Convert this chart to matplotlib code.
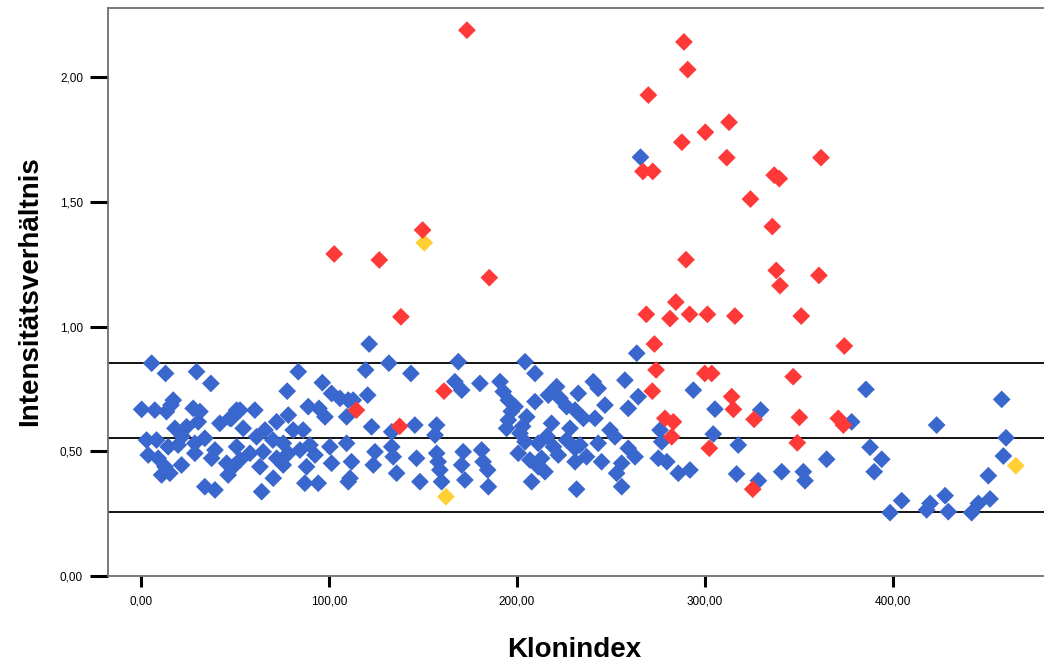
import matplotlib
matplotlib.use("Agg")
import matplotlib.pyplot as plt
from matplotlib.ticker import FuncFormatter

# clone index / intensity ratio
blue_x = [5.7, 13.1, 29.6, 37.2, 0.4, 7.4, 13.6, 17.2, 27.8, 31.4, 30.5, 24.3, 42.0, 47.3, 50.9,
          3.0, 8.3, 3.9, 9.2, 14.5, 19.8, 28.7, 34.0, 28.7, 39.4, 37.6, 12.8, 21.6, 11.0, 15.4,
          45.6, 46.4, 34.0, 39.4, 18.1, 16.0, 22.0,
          83.7, 96.5, 77.8, 101.4, 105.9, 110.3, 89.0, 94.7, 97.9, 109.4, 52.7, 60.6, 48.2, 78.4,
          72.2, 54.4, 66.0, 86.3, 81.0, 61.5, 70.2, 75.7, 89.9, 100.5, 50.9, 109.4, 58.0, 65.0,
          78.4, 84.6, 92.6, 52.7, 72.2, 101.4, 49.1, 63.3, 75.7, 88.1, 70.4, 87.2, 94.3, 64.2, 110.3,
          121.4, 131.9, 119.5, 143.6, 168.8, 167.0, 170.6, 120.6, 112.9, 122.7, 133.4, 145.7, 157.3,
          156.4, 124.5, 133.4, 134.2, 112.0, 123.6, 146.6, 157.3, 158.1, 159.0, 159.9, 171.4, 170.6,
          172.3, 111.2, 136.0, 148.4,
          204.3, 209.6, 180.3, 191.0, 192.7, 195.4, 199.0, 209.6, 221.1, 216.7, 232.6, 222.9, 226.4,
          230.9, 205.2, 195.4, 194.5, 218.4, 228.2, 201.6, 204.3, 211.3, 219.4, 226.4, 230.9, 200.7,
          206.9, 213.1, 222.0, 230.9, 211.3, 214.9, 207.8, 231.7, 181.2, 182.0, 184.4, 184.8, 197.0,
          203.0, 216.0,
          263.7, 257.4, 240.6, 243.2, 264.5, 246.8, 259.2, 293.8, 235.3, 241.5, 249.5, 252.1, 243.2,
          233.5, 237.0, 259.2, 262.8, 255.7, 253.0, 255.7, 245.0, 276.1, 277.0, 275.2, 279.7, 285.8,
          292.0, 265.7,
          305.3, 329.6, 304.4, 317.7, 316.8, 328.4, 340.8, 352.3, 353.2,
          385.6, 378.0, 387.8, 394.0, 364.7, 390.0, 398.4, 404.6, 417.9,
          457.8, 423.2, 460.1, 458.7, 450.7, 451.6, 445.4, 441.8, 427.7, 429.4, 419.7]
blue_y = [0.853, 0.812, 0.819, 0.772, 0.668, 0.665, 0.659, 0.705, 0.672, 0.659, 0.618, 0.598, 0.612,
          0.632, 0.665, 0.545, 0.545, 0.485, 0.472, 0.518, 0.525, 0.532, 0.552, 0.492, 0.505, 0.472,
          0.438, 0.445, 0.405, 0.412, 0.452, 0.405, 0.358, 0.345, 0.592, 0.685, 0.560,
          0.819, 0.775, 0.741, 0.732, 0.712, 0.705, 0.679, 0.672, 0.638, 0.638, 0.665, 0.665, 0.632,
          0.645, 0.618, 0.592, 0.585, 0.585, 0.585, 0.558, 0.545, 0.532, 0.525, 0.518, 0.518, 0.532,
          0.492, 0.498, 0.492, 0.505, 0.485, 0.465, 0.472, 0.452, 0.438, 0.438, 0.445, 0.438, 0.392,
          0.372, 0.372, 0.338, 0.378,
          0.930, 0.853, 0.826, 0.812, 0.859, 0.779, 0.745, 0.725, 0.705, 0.598, 0.578, 0.605, 0.605,
          0.565, 0.498, 0.518, 0.478, 0.458, 0.445, 0.472, 0.492, 0.458, 0.425, 0.378, 0.498, 0.445,
          0.385, 0.392, 0.412, 0.378,
          0.859, 0.812, 0.772, 0.779, 0.739, 0.705, 0.679, 0.699, 0.759, 0.725, 0.732, 0.712, 0.679,
          0.665, 0.638, 0.625, 0.592, 0.612, 0.592, 0.572, 0.538, 0.532, 0.518, 0.545, 0.512, 0.492,
          0.465, 0.472, 0.485, 0.458, 0.438, 0.418, 0.378, 0.348, 0.505, 0.458, 0.425, 0.358, 0.660,
          0.600, 0.560,
          0.893, 0.785, 0.779, 0.752, 0.719, 0.685, 0.672, 0.745, 0.632, 0.632, 0.585, 0.558, 0.532,
          0.525, 0.478, 0.512, 0.478, 0.452, 0.412, 0.358, 0.458, 0.585, 0.538, 0.472, 0.458, 0.412,
          0.425, 1.679,
          0.669, 0.665, 0.569, 0.525, 0.409, 0.382, 0.418, 0.418, 0.382,
          0.748, 0.618, 0.516, 0.468, 0.468, 0.418, 0.254, 0.302, 0.265,
          0.708, 0.605, 0.554, 0.481, 0.402, 0.309, 0.291, 0.254, 0.322, 0.258, 0.291]

red_x = [173.4, 102.8, 126.8, 149.8, 185.3, 138.3, 161.2, 114.6, 137.6,
         288.8, 290.8, 269.9, 312.8, 300.2, 287.7, 311.6, 361.7, 267.0, 272.2, 336.8, 339.5, 324.2,
         335.8, 289.9, 337.9, 360.6, 339.9, 284.5, 268.8, 281.4, 291.8, 301.3, 315.9, 351.2, 273.1,
         374.1, 274.0, 272.0, 299.9, 303.6, 346.9, 314.2, 315.1, 326.1, 350.2, 302.3, 349.1, 325.4,
         370.9, 373.6, 278.7, 283.2, 282.3]
red_y = [2.188, 1.291, 1.267, 1.387, 1.196, 1.039, 0.741, 0.665, 0.600,
         2.141, 2.030, 1.928, 1.819, 1.779, 1.739, 1.677, 1.677, 1.622, 1.622, 1.607, 1.593, 1.511,
         1.401, 1.268, 1.225, 1.205, 1.164, 1.098, 1.049, 1.032, 1.049, 1.049, 1.042, 1.042, 0.930,
         0.922, 0.826, 0.741, 0.812, 0.812, 0.799, 0.719, 0.668, 0.628, 0.636, 0.512, 0.534, 0.348,
         0.632, 0.605, 0.632, 0.618, 0.558]

yellow_x = [150.7, 162.2, 465.3]
yellow_y = [1.336, 0.318, 0.442]

ref_lines = [0.855, 0.555, 0.255]
x_ticks = [0, 100, 200, 300, 400]
y_ticks = [0, 0.5, 1.0, 1.5, 2.0]

fig = plt.figure(figsize=(10.44, 6.66), dpi=100)
ax = fig.add_axes([108 / 1044, 90 / 666, (1044 - 108) / 1044, (576 - 8) / 666])

for y in ref_lines:
    ax.axhline(y, color="black", lw=1.3, zorder=1)

ms = 82
ax.scatter(blue_x, blue_y, marker="D", s=ms, color="#3a67cd", edgecolors="none", zorder=2)
ax.scatter(yellow_x, yellow_y, marker="D", s=ms, color="#ffcf33", edgecolors="none", zorder=3)
ax.scatter(red_x, red_y, marker="D", s=ms, color="#ff3838", edgecolors="none", zorder=4)

ax.set_xlim(-17.5, 480.3)
ax.set_ylim(0, 2.277)
ax.set_xticks(x_ticks)
ax.set_yticks(y_ticks)
comma = FuncFormatter(lambda v, pos: f"{v:.2f}".replace(".", ","))
ax.xaxis.set_major_formatter(comma)
ax.yaxis.set_major_formatter(comma)

for side in ["left", "bottom", "top"]:
    ax.spines[side].set_color("#707070")
    ax.spines[side].set_linewidth(1.3)
ax.spines["right"].set_visible(False)

ax.tick_params(axis="y", length=13, width=2.2, pad=5, labelsize=8.5)
ax.tick_params(axis="x", length=8, width=2.2, pad=6, labelsize=8.5)
for lab in ax.get_xticklabels() + ax.get_yticklabels():
    lab.set_fontfamily("Liberation Sans")

fig.text(30 / 1044, 1 - 291 / 666, "Intensitätsverhältnis", rotation=90, ha="center", va="center",
         fontsize=20, fontweight="bold", family="Liberation Sans")
fig.text(574 / 1044, 1 - 650 / 666, "Klonindex", ha="center", va="center",
         fontsize=20, fontweight="bold", family="Liberation Sans")

fig.savefig("out.png", dpi=100)
